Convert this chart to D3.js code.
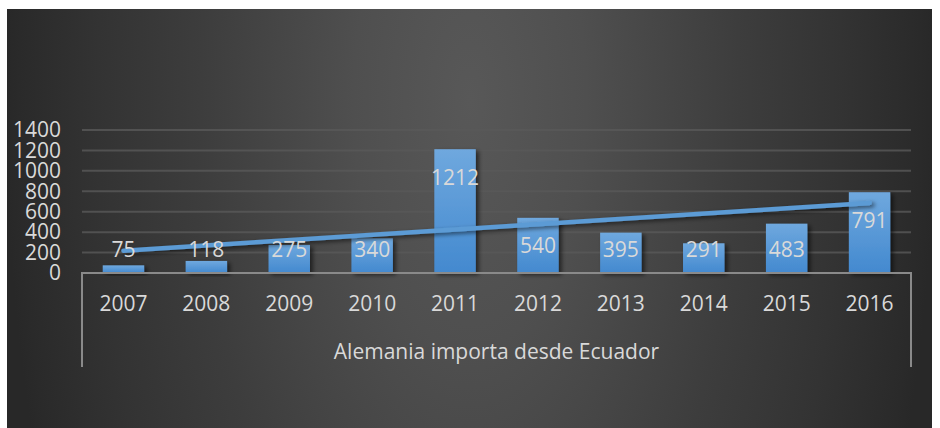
<!DOCTYPE html>
<html>
<head>
<meta charset="utf-8">
<script src="https://cdn.jsdelivr.net/npm/d3@7"></script>
<style>
  html, body { margin: 0; padding: 0; background: #fff; }
  svg { display: block; font-family: "Open Sans", sans-serif; }
</style>
</head>
<body>
<div id="chart"></div>
<script>
// chart data
var years = ["2007", "2008", "2009", "2010", "2011", "2012", "2013", "2014", "2015", "2016"];
var imports = [75, 118, 275, 340, 1212, 540, 395, 291, 483, 791];
var yTicks = [0, 200, 400, 600, 800, 1000, 1200, 1400];
// linear trend line at first and last year
var trendEnds = [218, 686];
var axisTitle = "Alemania importa desde Ecuador";

var W = 940, H = 428;
var margin = { top: 130, right: 29, bottom: 155, left: 82 };
var textColor = "#d9d9d9";

var svg = d3.select("#chart").append("svg")
    .attr("width", W)
    .attr("height", H);

var defs = svg.append("defs");

// background radial shading
var bg = defs.append("radialGradient")
    .attr("id", "bgGrad")
    .attr("gradientUnits", "userSpaceOnUse")
    .attr("cx", 0).attr("cy", 0).attr("r", 1)
    .attr("gradientTransform", "translate(470,100) scale(465,1000)");
[[0, "#585858"], [0.25, "#4f4f4f"], [0.58, "#3d3d3d"], [0.8, "#333333"], [0.97, "#2a2a2a"], [1, "#282828"]]
    .forEach(function (s) {
        bg.append("stop").attr("offset", s[0]).attr("stop-color", s[1]);
    });

var barGrad = defs.append("linearGradient")
    .attr("id", "barGrad")
    .attr("x1", 0).attr("y1", 0).attr("x2", 0).attr("y2", 1);
barGrad.append("stop").attr("offset", 0).attr("stop-color", "#6fa8de");
barGrad.append("stop").attr("offset", 1).attr("stop-color", "#4389cf");

var shadow = defs.append("filter")
    .attr("id", "shadow")
    .attr("x", "-30%").attr("y", "-30%").attr("width", "160%").attr("height", "160%");
shadow.append("feDropShadow")
    .attr("dx", 3).attr("dy", 2).attr("stdDeviation", 2)
    .attr("flood-color", "#000").attr("flood-opacity", 0.55);

svg.append("rect")
    .attr("x", 7).attr("y", 9)
    .attr("width", 925).attr("height", H - 9)
    .attr("fill", "url(#bgGrad)");

var plotBottom = H - margin.bottom;

var x = d3.scaleBand()
    .domain(years)
    .range([margin.left, W - margin.right])
    .paddingInner(0.5)
    .paddingOuter(0.25);

var y = d3.scaleLinear()
    .domain([0, 1400])
    .range([plotBottom, margin.top]);

// gridlines
svg.append("g")
    .selectAll("line")
    .data(yTicks.slice(1))
    .join("line")
    .attr("x1", margin.left)
    .attr("x2", W - margin.right)
    .attr("y1", function (d) { return y(d); })
    .attr("y2", function (d) { return y(d); })
    .attr("stroke", "#595959")
    .attr("stroke-width", 2)
    .attr("opacity", 0.8);

// y axis labels
var yAxis = d3.axisLeft(y).tickValues(yTicks).tickFormat(d3.format("d")).tickSize(0).tickPadding(0);
var gy = svg.append("g")
    .attr("transform", "translate(61,0)")
    .call(yAxis);
gy.select(".domain").remove();
gy.selectAll("text")
    .attr("fill", textColor)
    .style("font-size", "21px")
    .style("font-family", "'Open Sans', sans-serif");

// bars
svg.append("g")
    .selectAll("rect")
    .data(imports)
    .join("rect")
    .attr("x", function (d, i) { return x(years[i]); })
    .attr("y", function (d) { return y(d); })
    .attr("width", x.bandwidth())
    .attr("height", function (d) { return plotBottom - y(d); })
    .attr("fill", "url(#barGrad)")
    .attr("filter", "url(#shadow)");

// trend line
var center = function (yr) { return x(yr) + x.bandwidth() / 2; };
var trendPts = [[center(years[0]), y(trendEnds[0])], [center(years[years.length - 1]), y(trendEnds[1])]];
svg.append("path")
    .attr("d", d3.line()(trendPts))
    .attr("stroke", "#5b9bd5")
    .attr("stroke-width", 4.5)
    .attr("stroke-linecap", "round")
    .attr("fill", "none")
    .attr("filter", "url(#shadow)");

// data labels
svg.append("g")
    .selectAll("text")
    .data(imports)
    .join("text")
    .attr("x", function (d, i) { return center(years[i]); })
    .attr("y", function (d) { return Math.min(y(d) + 28, y(0) - 23); })
    .attr("dy", "0.35em")
    .attr("text-anchor", "middle")
    .attr("fill", textColor)
    .style("font-size", "21px")
    .text(function (d) { return d; });

// category axis box
var axisG = svg.append("g")
    .attr("fill", "none")
    .attr("stroke", "#8a8a8a")
    .attr("stroke-width", 2);
axisG.append("path")
    .attr("d", "M" + margin.left + "," + 367 + "V" + plotBottom + "H" + (W - margin.right) + "V" + 367);

var xAxis = d3.axisBottom(x).tickSize(0).tickPadding(0);
var gx = svg.append("g")
    .attr("transform", "translate(0," + 304 + ")")
    .call(xAxis);
gx.select(".domain").remove();
gx.selectAll("text")
    .attr("fill", textColor)
    .attr("dy", "0.35em")
    .style("font-size", "21px")
    .style("font-family", "'Open Sans', sans-serif");

svg.append("text")
    .attr("x", (margin.left + W - margin.right) / 2)
    .attr("y", 352)
    .attr("dy", "0.35em")
    .attr("text-anchor", "middle")
    .attr("fill", textColor)
    .style("font-size", "21px")
    .text(axisTitle);
</script>
</body>
</html>
